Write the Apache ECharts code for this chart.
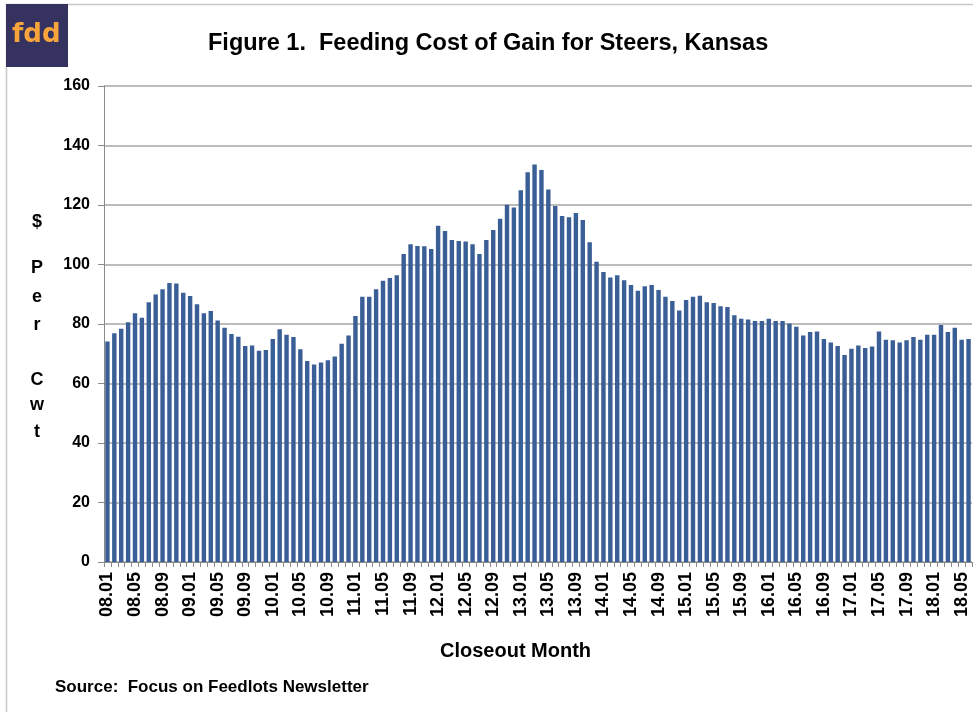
<!DOCTYPE html>
<html>
<head>
<meta charset="utf-8">
<script src="https://cdn.jsdelivr.net/npm/echarts@6/dist/echarts.min.js"></script>
<style>html,body{margin:0;padding:0;background:#fff;}#c{width:975px;height:712px;}</style>
</head>
<body>
<div id="c"></div>
<script>
// Closeout months 08.01 .. 18.06
const months = [];
for (let y = 8; y <= 18; y++) {
  for (let m = 1; m <= 12; m++) {
    if (y === 18 && m > 6) break;
    months.push((y < 10 ? '0' + y : '' + y) + '.' + (m < 10 ? '0' + m : '' + m));
  }
}
const costOfGain = [
  74.1, 76.9, 78.4, 80.6, 83.6, 82.1, 87.3, 89.9, 91.7, 93.8, 93.6, 90.5,
  89.4, 86.6, 83.6, 84.4, 81.2, 78.7, 76.6, 75.7, 72.6, 72.8, 71.0, 71.3,
  75.0, 78.2, 76.4, 75.6, 71.5, 67.6, 66.4, 67.1, 67.8, 69.1, 73.4, 76.1,
  82.7, 89.2, 89.2, 91.7, 94.5, 95.5, 96.4, 103.5, 106.8, 106.2, 106.1, 105.2,
  113.0, 111.3, 108.2, 107.9, 107.7, 106.8, 103.5, 108.2, 111.6, 115.4, 120.1, 119.2,
  125.0, 131.0, 133.6, 131.8, 125.2, 119.7, 116.3, 115.9, 117.3, 115.0, 107.5, 100.9,
  97.5, 95.6, 96.4, 94.7, 93.1, 91.2, 92.7, 93.1, 91.4, 89.2, 87.7, 84.5,
  88.1, 89.2, 89.5, 87.3, 87.1, 86.0, 85.7, 82.9, 81.8, 81.5, 81.0, 81.0,
  81.8, 81.0, 81.0, 80.2, 79.1, 76.1, 77.3, 77.5, 75.0, 73.8, 72.6, 69.6,
  71.7, 72.8, 71.9, 72.4, 77.5, 74.7, 74.5, 73.8, 74.5, 75.6, 74.7, 76.4,
  76.4, 79.7, 77.3, 78.7, 74.7, 75.0
];
const yTicks = [0, 20, 40, 60, 80, 100, 120, 140, 160];
const titleText = 'Figure 1.  Feeding Cost of Gain for Steers, Kansas';
const xName = 'Closeout Month';
const sourceText = 'Source:  Focus on Feedlots Newsletter';
const yNameChars = [['$', 222], ['P', 268], ['e', 297], ['r', 325], ['C', 380], ['w', 405], ['t', 432]];

const chart = echarts.init(document.getElementById('c'));
const font = 'Liberation Sans, Arial, sans-serif';
const graphics = [
  { type: 'line', shape: { x1: 6, y1: 4.5, x2: 973, y2: 4.5 }, style: { stroke: '#c8c8c8', lineWidth: 1.5 } },
  { type: 'line', shape: { x1: 6.5, y1: 4, x2: 6.5, y2: 712 }, style: { stroke: '#c8c8c8', lineWidth: 1.5 } },
  { type: 'rect', shape: { x: 6, y: 4, width: 62, height: 63 }, style: { fill: '#35325f' } },
  { type: 'text', left: 12, top: 22, style: { text: 'fdd', fill: '#f7a43c', font: 'bold 26px "DejaVu Sans", sans-serif' } },
  { type: 'text', left: 208, top: 32, style: { text: titleText, fill: '#000', font: 'bold 23.5px ' + font } },
  { type: 'text', left: 440, top: 641, style: { text: xName, fill: '#000', font: 'bold 20px ' + font } },
  { type: 'text', left: 55, top: 679, style: { text: sourceText, fill: '#000', font: 'bold 17px ' + font } }
];
yNameChars.forEach(([ch, y]) => {
  graphics.push({ type: 'text', x: 37, y: y, style: { text: ch, fill: '#000', font: 'bold 18px ' + font, align: 'center', verticalAlign: 'middle' } });
});

chart.setOption({
  animation: false,
  backgroundColor: '#fff',
  grid: { left: 104, right: 3, top: 86, bottom: 150, containLabel: false },
  xAxis: {
    type: 'category',
    data: months,
    axisLine: { show: true, lineStyle: { color: '#8a8a8a', width: 1 } },
    axisTick: { show: true, interval: 0, length: 5, lineStyle: { color: '#8a8a8a' } },
    axisLabel: {
      interval: 3,
      rotate: 90,
      color: '#000',
      fontFamily: font,
      fontWeight: 'bold',
      fontSize: 18,
      margin: 10
    }
  },
  yAxis: {
    type: 'value',
    min: 0, max: 160, interval: 20,
    axisLine: { show: true, lineStyle: { color: '#8a8a8a', width: 1 } },
    axisTick: { show: true, length: 6, lineStyle: { color: '#8a8a8a' } },
    axisLabel: { color: '#000', fontFamily: font, fontWeight: 'bold', fontSize: 16, margin: 14,
      formatter: v => yTicks.includes(v) ? String(v) : '' },
    splitLine: { show: true, lineStyle: { color: '#a6a6a6', width: 1.5 } }
  },
  series: [{
    type: 'bar',
    data: costOfGain,
    barCategoryGap: '36%',
    itemStyle: { color: '#3a5f96' }
  }],
  graphic: graphics
});
</script>
</body>
</html>
